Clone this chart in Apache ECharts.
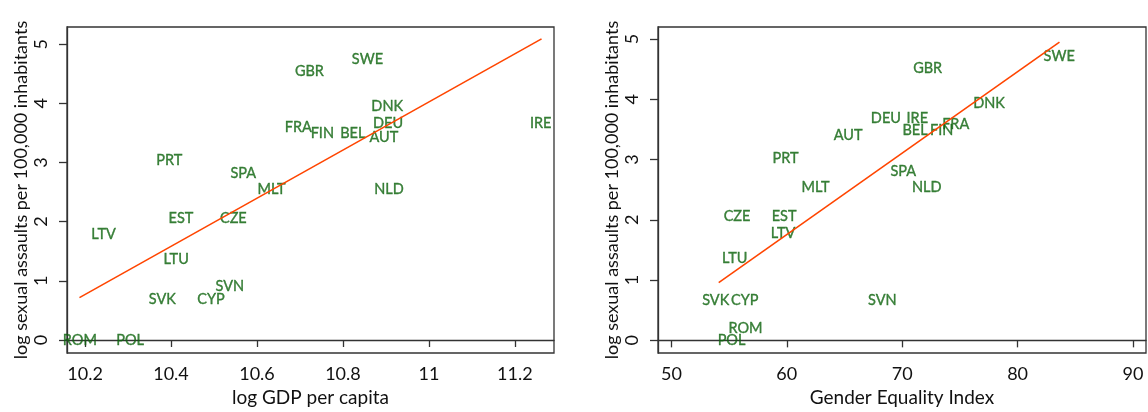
<!DOCTYPE html>
<html><head><meta charset="utf-8">
<script src="https://cdn.jsdelivr.net/npm/echarts@6/dist/echarts.min.js"></script>
<style>html,body{margin:0;padding:0;background:#fff}#c{width:1148px;height:412px}</style>
</head><body><div id="c"></div>
<script>
// Left panel: log GDP per capita
const gdpNames = ['ROM','POL','LTV','PRT','EST','LTU','SVK','CYP','SVN','CZE','SPA','MLT','FRA','GBR','SWE','FIN','BEL','DNK','DEU','AUT','NLD','IRE'];
const gdpX = [10.188,10.305,10.243,10.396,10.423,10.412,10.380,10.493,10.537,10.545,10.568,10.634,10.696,10.722,10.857,10.752,10.823,10.903,10.905,10.895,10.907,11.260];
const gdpY = [0.00,0.00,1.78,3.03,2.06,1.37,0.68,0.68,0.90,2.06,2.81,2.54,3.59,4.54,4.74,3.49,3.49,3.95,3.67,3.42,2.54,3.67];
const gdpFitX = [10.187, 11.262];
const gdpFitY = [0.716, 5.09];
const gdpTicks = [10.2, 10.4, 10.6, 10.8, 11, 11.2];

// Right panel: Gender Equality Index
const geiNames = ['AUT','PRT','MLT','CZE','EST','LTV','LTU','SVK','CYP','ROM','POL','GBR','SWE','DNK','DEU','IRE','FRA','BEL','FIN','SPA','NLD','SVN'];
const geiX = [65.32,59.89,62.49,55.69,59.77,59.68,55.49,53.84,56.36,56.42,55.21,72.21,83.61,77.53,68.59,71.31,74.64,71.11,73.43,70.10,72.13,68.28];
const geiY = [3.41,3.02,2.54,2.06,2.06,1.77,1.36,0.67,0.67,0.20,0.00,4.52,4.72,3.93,3.68,3.68,3.59,3.48,3.48,2.81,2.54,0.67];
const geiFitX = [54.1, 83.63];
const geiFitY = [0.957, 4.95];
const geiTicks = [50, 60, 70, 80, 90];

const yTicks = [0, 1, 2, 3, 4, 5];

const FONT = 'Lato';
const txtGreen = '#0e640e';
const lineRed = '#ff4500';

function labelData(names, xs, ys){ return names.map((n,i)=>[xs[i], ys[i], n]); }
function fitData(xs, ys){ return xs.map((x,i)=>[x, ys[i]]); }

function xAxisCfg(idx, min, max, ticks, name){
  return {
    gridIndex: idx, type: 'value', min, max, name, nameLocation: 'middle', nameGap: 34,
    nameTextStyle: {fontFamily: FONT, fontSize: 19, color: '#111'},
    splitLine: {show: false},
    axisLine: {show: true, lineStyle: {color: '#333', width: 1.3}},
    axisTick: {show: true, customValues: ticks, length: 7, lineStyle: {color: '#333', width: 1.3}},
    axisLabel: {customValues: ticks, margin: 12, fontFamily: FONT, fontSize: 18, color: '#111',
      formatter: v => String(+v.toFixed(2))}
  };
}
function yAxisCfg(idx, min, max){
  return {
    gridIndex: idx, type: 'value', min, max,
    name: 'log sexual assaults per 100,000 inhabitants', nameLocation: 'middle', nameGap: 37, nameRotate: 90,
    nameTextStyle: {fontFamily: FONT, fontSize: 18, color: '#111'},
    splitLine: {show: false},
    axisLine: {show: true, lineStyle: {color: '#333', width: 1.3}},
    axisTick: {show: true, customValues: yTicks, length: 8, lineStyle: {color: '#333', width: 1.3}},
    axisLabel: {customValues: yTicks, rotate: 90, margin: 17, fontFamily: FONT, fontSize: 18, color: '#111'}
  };
}
function labelSeries(idx, data){
  return {
    type: 'scatter', xAxisIndex: idx, yAxisIndex: idx, data, symbolSize: 1,
    itemStyle: {color: 'rgba(0,0,0,0)'}, z: 2, silent: true,
    label: {show: true, position: 'inside', formatter: p => p.value[2],
      fontFamily: FONT, fontSize: 14.5, color: txtGreen,
      textBorderColor: txtGreen, textBorderWidth: 0.35}
  };
}
function fitSeries(idx, data){
  return {type: 'line', xAxisIndex: idx, yAxisIndex: idx, data, symbol: 'none', z: 5,
    lineStyle: {color: lineRed, width: 1.6}, silent: true};
}

const chart = echarts.init(document.getElementById('c'), null, {renderer: 'canvas'});
chart.setOption({
  animation: false,
  grid: [
    {left: 67, right: 594, top: 27, bottom: 59, show: true, borderColor: '#333', borderWidth: 1.3, backgroundColor: 'transparent'},
    {left: 658, right: 2, top: 27, bottom: 59, show: true, borderColor: '#333', borderWidth: 1.3, backgroundColor: 'transparent'}
  ],
  xAxis: [
    xAxisCfg(0, 10.158, 11.291, gdpTicks, 'log GDP per capita'),
    xAxisCfg(1, 48.84, 91.13, geiTicks, 'Gender Equality Index')
  ],
  yAxis: [
    yAxisCfg(0, -0.22, 5.29),
    yAxisCfg(1, -0.21, 5.20)
  ],
  series: [
    labelSeries(0, labelData(gdpNames, gdpX, gdpY)),
    fitSeries(0, fitData(gdpFitX, gdpFitY)),
    labelSeries(1, labelData(geiNames, geiX, geiY)),
    fitSeries(1, fitData(geiFitX, geiFitY))
  ]
});
</script></body></html>
